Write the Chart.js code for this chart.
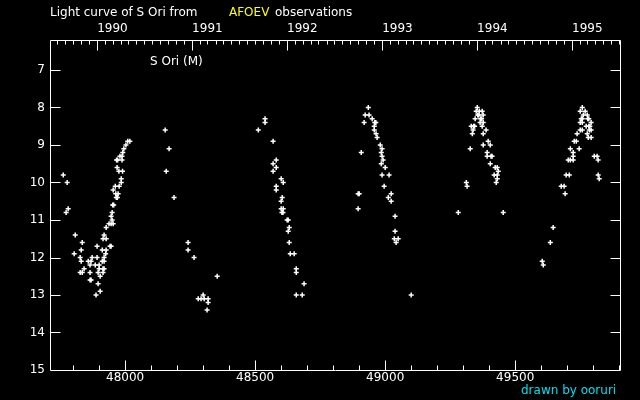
<!DOCTYPE html>
<html lang="en">
<head>
    <meta charset="UTF-8">
    <title>Light curve of S Ori</title>
    <script src="https://cdn.jsdelivr.net/npm/chart.js"></script>
    <style>
        body {
            margin: 0;
            background: #000;
        }
        .wrap {
            position: relative;
            width: 640px;
            height: 400px;
            font-family: "DejaVu Sans", sans-serif;
            font-size: 12px;
            line-height: 14px;
            color: #fff;
        }
        .wrap span {
            position: absolute;
            white-space: nowrap;
        }
        canvas {
            position: absolute;
            left: 0;
            top: 0;
        }
    </style>
</head>
<body>
<div class="wrap">
    <canvas id="lightCurve" width="640" height="400"></canvas>
    <span style="left:50px; top:5px;">Light curve of S Ori from</span>
    <span style="left:229px; top:5px; color:#ffff00;">AFOEV</span>
    <span style="left:275px; top:5px;">observations</span>
    <span style="left:150px; top:54px;">S Ori (M)</span>
    <span style="left:521px; top:383px; color:#00e0ee;">drawn by ooruri</span>
</div>

<script>
    // observations [JD - 2400000, visual magnitude], one array per season
    const season1990 = [
        [47762, 9.8], [47777, 10.0], [47781, 10.7], [47773, 10.8],
        [47808, 11.4], [47804, 11.9], [47835, 11.6], [47831, 11.8], [47827, 12.0], [47831, 12.1],
        [47842, 12.3], [47827, 12.4], [47835, 12.4],
        [47858, 12.1], [47869, 12.1], [47865, 12.2], [47865, 12.4], [47865, 12.6], [47869, 12.6], [47873, 12.0],
        [47885, 12.2], [47888, 13.0], [47892, 11.7], [47892, 12.0], [47896, 12.4], [47896, 12.7],
        [47900, 12.2], [47900, 12.3], [47904, 12.5], [47904, 12.9],
        [47912, 11.8], [47912, 12.1], [47915, 11.5], [47915, 12.3], [47915, 12.4], [47919, 12.3],
        [47919, 11.4], [47919, 12.0], [47919, 12.1],
        [47925, 11.9], [47927, 11.2], [47927, 11.5], [47927, 11.8],
        [47938, 11.1], [47942, 11.7], [47946, 11.7], [47946, 11.1], [47954, 11.1], [47946, 10.9],
        [47950, 10.8], [47950, 11.0], [47952, 10.6], [47956, 10.6], [47954, 10.2],
        [47962, 10.1], [47977, 10.1], [47964, 10.3], [47973, 10.3], [47966, 10.4], [47970, 10.4],
        [47969, 9.6], [47976, 9.7], [47990, 9.7], [47985, 9.9], [47985, 10.0],
        [47967, 9.4], [47971, 9.4], [47988, 9.4],
        [47980, 9.3], [47988, 9.3], [47991, 9.2], [47995, 9.1], [48003, 9.0], [48010, 8.9], [48018, 8.9]
    ];
    const season1991 = [
        [48154, 8.6], [48169, 9.1], [48158, 9.7], [48188, 10.4], [48242, 11.6], [48242, 11.8],
        [48265, 12.0], [48354, 12.5], [48300, 13.0], [48281, 13.1], [48292, 13.1], [48304, 13.1],
        [48319, 13.1], [48319, 13.2], [48315, 13.4]
    ];
    const season1992 = [
        [48512, 8.6], [48538, 8.3], [48538, 8.4], [48569, 8.9], [48581, 9.4], [48569, 9.5],
        [48581, 9.6], [48569, 9.7], [48600, 9.9], [48608, 10.0], [48581, 10.1], [48581, 10.2],
        [48604, 10.4], [48600, 10.5], [48600, 10.7], [48608, 10.7], [48603, 10.8], [48607, 10.8],
        [48623, 11.0], [48627, 11.0], [48631, 11.2], [48627, 11.3], [48631, 11.6], [48635, 11.9],
        [48650, 11.9], [48658, 12.3], [48658, 12.4], [48688, 12.7], [48658, 13.0], [48681, 13.0]
    ];
    const season1993 = [
        [48896, 10.3], [48900, 10.3], [48896, 10.7], [48908, 9.2], [48919, 8.4], [48923, 8.2],
        [48935, 8.0], [48938, 8.2], [48950, 8.3], [48960, 8.4], [48964, 8.4], [48958, 8.5],
        [48958, 8.6], [48965, 8.7], [48969, 8.8], [48981, 9.0], [48988, 9.1], [48985, 9.2],
        [48988, 9.3], [48992, 9.4], [48985, 9.5], [49000, 9.6], [48988, 9.8], [49015, 9.8],
        [48996, 10.1], [49023, 10.3], [49012, 10.4], [49023, 10.5], [49038, 10.9], [49038, 11.3],
        [49035, 11.5], [49050, 11.5], [49042, 11.6], [49100, 13.0]
    ];
    const season1994 = [
        [49281, 10.8], [49312, 10.0], [49315, 10.1], [49327, 9.1], [49331, 8.5], [49335, 8.7],
        [49338, 8.6], [49340, 8.5], [49344, 8.5], [49346, 8.3], [49350, 8.1], [49354, 8.0],
        [49356, 8.2], [49360, 8.2], [49362, 8.1], [49365, 8.4], [49367, 8.3], [49371, 8.3],
        [49373, 8.1], [49373, 8.5], [49377, 8.2], [49377, 8.4], [49377, 8.7], [49377, 9.0],
        [49388, 8.6], [49392, 9.2], [49392, 9.3], [49396, 8.9], [49404, 9.0], [49404, 9.5],
        [49407, 9.3], [49411, 9.3], [49419, 9.8], [49423, 9.6], [49427, 10.0], [49431, 9.6],
        [49431, 9.8], [49431, 9.9], [49435, 9.7], [49454, 10.8]
    ];
    const season1995 = [
        [49604, 12.1], [49608, 12.2], [49635, 11.6], [49646, 11.2], [49677, 10.1], [49688, 10.1],
        [49692, 10.3], [49696, 9.8], [49708, 9.8], [49704, 9.4], [49712, 9.4], [49723, 9.4],
        [49712, 9.1], [49723, 9.2], [49723, 9.3], [49727, 8.9], [49735, 8.9], [49738, 8.7],
        [49746, 9.1], [49750, 8.1], [49750, 8.4], [49750, 8.6], [49754, 8.3], [49758, 8.3],
        [49758, 8.0], [49758, 8.4], [49758, 8.6], [49762, 8.2], [49769, 8.1], [49773, 8.5],
        [49777, 8.2], [49777, 8.7], [49779, 8.3], [49783, 8.3], [49781, 8.8], [49783, 8.5],
        [49787, 8.5], [49785, 8.6], [49792, 8.4], [49792, 8.6], [49792, 8.8], [49804, 9.3],
        [49815, 9.3], [49819, 9.4], [49819, 9.8], [49823, 9.9]
    ];

    // axes
    const jdMin = 47711, jdMax = 49903;
    const jdLabels = [48000, 48500, 49000, 49500];
    const yearLabels = ['1990', '1991', '1992', '1993', '1994', '1995'];
    const magMin = 6.2, magMax = 15;
    const magLabels = [7, 8, 9, 10, 11, 12, 13, 14, 15];

    // JD - 2400000 at 0h UT of a date
    function jdOf(year, month) {
        return Date.UTC(year, month, 1) / 86400000 + 40587.5;
    }
    const yearJD = yearLabels.map(y => jdOf(Number(y), 0));

    // inward ticks and the frame, like the original plot
    const frameTicks = {
        id: 'frameTicks',
        afterDatasetsDraw(chart) {
            const {ctx, chartArea: a, scales} = chart;
            const x = scales.x, top = scales.top, y = scales.y;
            ctx.save();
            ctx.strokeStyle = '#fff';
            ctx.lineWidth = 1;
            ctx.beginPath();
            ctx.rect(a.left + 0.5, a.top + 0.5, a.right - a.left, a.bottom - a.top);
            // bottom: every 100 days, longer every 500
            for (let v = Math.ceil(jdMin / 100) * 100; v < jdMax; v += 100) {
                const px = Math.round(x.getPixelForValue(v)) + 0.5;
                const len = v % 500 === 0 ? 10 : 5;
                ctx.moveTo(px, a.bottom + 0.5);
                ctx.lineTo(px, a.bottom + 0.5 - len);
            }
            // top: months, longer at January
            for (let yr = 1989; yr <= 1995; yr++) {
                for (let m = 0; m < 12; m++) {
                    const v = jdOf(yr, m);
                    if (v <= jdMin || v >= jdMax) continue;
                    const px = Math.round(top.getPixelForValue(v)) + 0.5;
                    const len = m === 0 ? 10 : 4;
                    ctx.moveTo(px, a.top + 0.5);
                    ctx.lineTo(px, a.top + 0.5 + len);
                }
            }
            // left and right: whole magnitudes
            magLabels.slice(0, -1).forEach(v => {
                const py = Math.round(y.getPixelForValue(v)) + 0.5;
                ctx.moveTo(a.left + 0.5, py);
                ctx.lineTo(a.left + 10.5, py);
                ctx.moveTo(a.right + 0.5, py);
                ctx.lineTo(a.right - 9.5, py);
            });
            ctx.stroke();
            ctx.restore();
        }
    };

    Chart.defaults.font.family = 'DejaVu Sans';
    Chart.defaults.font.size = 12;
    Chart.defaults.color = '#fff';

    const toPoints = s => s.map(([jd, mag]) => ({x: jd, y: mag}));
    const seasons = [season1990, season1991, season1992, season1993, season1994, season1995];
    const noGrid = {display: false, drawTicks: false};

    new Chart(document.getElementById('lightCurve'), {
        type: 'scatter',
        data: {
            datasets: seasons.map(s => ({
                data: toPoints(s),
                pointStyle: 'cross',
                radius: 2.5,
                borderWidth: 1.5,
                borderColor: '#fff',
                backgroundColor: '#fff'
            }))
        },
        options: {
            responsive: false,
            animation: false,
            devicePixelRatio: 1,
            layout: {padding: {left: 0, right: 20, top: 0, bottom: 0}},
            plugins: {legend: {display: false}, tooltip: {enabled: false}},
            scales: {
                x: {
                    type: 'linear', position: 'bottom', min: jdMin, max: jdMax,
                    grid: noGrid, border: {display: false},
                    afterBuildTicks: s => { s.ticks = jdLabels.map(v => ({value: v})); },
                    afterFit: s => { s.height = 30; },
                    ticks: {padding: 1, autoSkip: false, maxRotation: 0, callback: v => String(v)}
                },
                top: {
                    type: 'linear', position: 'top', min: jdMin, max: jdMax,
                    grid: noGrid, border: {display: false},
                    afterBuildTicks: s => { s.ticks = yearJD.map(v => ({value: v})); },
                    afterFit: s => { s.height = 40; },
                    ticks: {align: 'start', padding: 4, autoSkip: false, maxRotation: 0,
                        callback: (v, i) => yearLabels[i]}
                },
                y: {
                    type: 'linear', reverse: true, min: magMin, max: magMax,
                    grid: noGrid, border: {display: false},
                    afterBuildTicks: s => { s.ticks = magLabels.map(v => ({value: v})); },
                    afterFit: s => { s.width = 50; },
                    ticks: {padding: 5, callback: v => String(v)}
                }
            }
        },
        plugins: [frameTicks]
    });
</script>
</body>
</html>
